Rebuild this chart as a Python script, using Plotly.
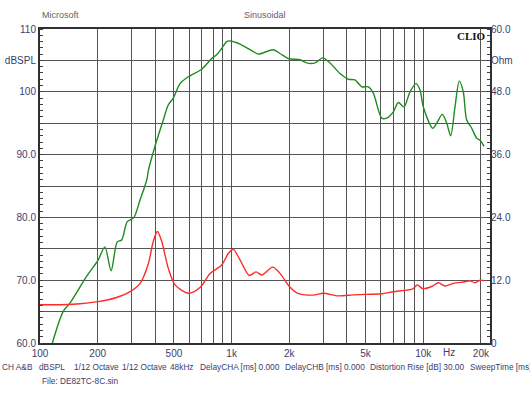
import plotly.graph_objects as go

# ---------------- data ----------------
spl_freq = [116, 132, 143, 175, 201, 218, 235, 253, 267, 285, 309, 333, 361, 368, 398, 440, 467, 496,
            538, 594, 698, 787, 836, 888, 943, 981, 1106, 1298, 1378, 1651, 1789, 1977, 2275, 2466,
            2725, 2989, 3264, 3680, 4066, 4407, 4776, 5171, 5490, 6074, 6450, 6982, 7413, 7940,
            8535, 9171, 9623, 10012, 11210, 11765, 12583, 13266, 13917, 14655, 15431, 16191,
            16866, 17915, 19024, 19797, 20769]
spl_db = [60.0, 65.0, 66.3, 70.6, 73.2, 75.3, 71.5, 76.1, 76.4, 79.3, 80.0, 82.8, 86.0, 87.5, 91.3,
          95.5, 97.9, 99.0, 101.3, 102.4, 103.6, 105.3, 105.9, 106.9, 108.0, 108.1, 107.6, 106.4,
          106.0, 106.7, 106.1, 105.3, 105.1, 104.6, 104.6, 105.4, 104.6, 102.9, 102.0, 101.9,
          100.8, 100.8, 99.8, 95.8, 95.8, 96.8, 98.3, 97.6, 100.0, 101.3, 100.3, 97.6, 94.2,
          95.0, 96.4, 95.0, 93.0, 97.6, 101.7, 100.0, 95.5, 94.2, 92.6, 92.3, 91.3]

imp_freq = [100, 149, 201, 251, 295, 333, 368, 390, 410, 432, 467, 507, 594, 684, 772, 888, 961,
            1021, 1106, 1237, 1341, 1436, 1639, 1789, 2001, 2187, 2416, 2725, 3010, 3606, 4317,
            5072, 6074, 6982, 8202, 8881, 9316, 9940, 11077, 11992, 12996, 14359, 16526, 17549,
            18644, 19797, 20769]
imp_ohm = [7.3, 7.4, 7.9, 8.7, 9.8, 11.4, 15.2, 19.4, 21.3, 19.4, 14.3, 11.1, 9.5, 10.6, 13.3,
           14.9, 17.1, 17.9, 15.9, 12.9, 13.6, 13.0, 14.5, 13.3, 10.8, 9.6, 9.2, 9.2, 9.5, 9.0,
           9.2, 9.3, 9.4, 9.8, 10.1, 10.4, 11.1, 10.4, 10.8, 11.5, 10.9, 11.4, 11.7, 11.9, 11.5,
           12.0, 11.9]

x_tickvals = [100, 200, 300, 400, 500, 600, 700, 800, 900, 1000, 2000, 3000, 4000, 5000, 6000,
              7000, 8000, 9000, 10000, 20000]
x_ticktext = ["100", "200", "", "", "500", "", "", "", "", "1k", "2k", "", "", "5k", "", "", "",
              "", "10k", "20k"]
y_tickvals = [60, 65, 70, 75, 80, 85, 90, 95, 100, 105, 110]
y_ticktext = ["60.0", "", "70.0", "", "80.0", "", "90.0", "", "100", "dBSPL", "110"]
y2_tickvals = [0, 6, 12, 18, 24, 30, 36, 42, 48, 54, 60]
y2_ticktext = ["0", "", "12.0", "", "24.0", "", "36.0", "", "48.0", "Ohm", "60.0"]

info_texts = ["CH A&B", "dBSPL", "1/12 Octave", "1/12 Octave", "48kHz", "DelayCHA [ms] 0.000",
              "DelayCHB [ms] 0.000", "Distortion Rise [dB] 30.00", "SweepTime [ms] 1000"]
info_px = [0, 37, 72, 120, 168, 198, 283, 368, 468]

# ---------------- figure ----------------
L, R, T, B = 40, 40, 29, 55
W, H = 530, 398
PW, PH = W - L - R, H - T - B


def px(x):
    return (x - L) / PW


def py(y):
    return (H - B - y) / PH


FONT = "Liberation Sans, Arial, sans-serif"
LABEL_COL = "#3d3d6b"
GRID = "#555555"

fig = go.Figure()
fig.add_trace(go.Scatter(x=spl_freq, y=spl_db, mode="lines", line=dict(color="#1e8c1e", width=1.4,
                                                                      shape="spline", smoothing=0.8),
                         yaxis="y", hoverinfo="skip", showlegend=False))
fig.add_trace(go.Scatter(x=imp_freq, y=imp_ohm, mode="lines", line=dict(color="#ff2a2a", width=1.4,
                                                                      shape="spline", smoothing=0.8),
                         yaxis="y2", hoverinfo="skip", showlegend=False))

fig.update_layout(
    width=W, height=H,
    margin=dict(l=L, r=R, t=T, b=B, pad=0, autoexpand=False),
    paper_bgcolor="white", plot_bgcolor="white",
    font=dict(family=FONT, size=10, color=LABEL_COL),
    xaxis=dict(type="log", range=[2, 4.3486], tickmode="array", tickvals=x_tickvals,
               ticktext=x_ticktext, showgrid=True, gridcolor=GRID, gridwidth=1,
               showline=True, linecolor="#303030", linewidth=2, mirror=True, automargin=False,
               ticks="", zeroline=False, tickfont=dict(size=10, color=LABEL_COL)),
    yaxis=dict(range=[60, 110], tickmode="array", tickvals=y_tickvals, ticktext=y_ticktext,
               showgrid=True, gridcolor=GRID, gridwidth=1, showline=True, linecolor="#303030",
               linewidth=2, mirror=True, ticks="", zeroline=False, automargin=False,
               tickfont=dict(size=10, color=LABEL_COL),
               minor=dict(tickmode="linear", tick0=60, dtick=1, ticks="inside", ticklen=3,
                          tickcolor="#404040", showgrid=False)),
    yaxis2=dict(range=[0, 60], overlaying="y", side="right", tickmode="array", automargin=False,
                tickvals=y2_tickvals, ticktext=y2_ticktext, showgrid=False, zeroline=False,
                showline=False, ticks="", tickfont=dict(size=10, color=LABEL_COL),
                minor=dict(tickmode="linear", tick0=0, dtick=1.2, ticks="inside", ticklen=3,
                           tickcolor="#404040", showgrid=False)),
)

ann = []
ann.append(dict(text="Microsoft", x=px(40), y=py(15), xanchor="left", yanchor="middle",
                font=dict(size=9, color="#5f665f")))
ann.append(dict(text="Sinusoidal", x=px(265), y=py(15), xanchor="center", yanchor="middle",
                font=dict(size=9, color="#6e566e")))
ann.append(dict(text="<b>CLIO</b>", x=px(488), y=py(36), xanchor="right", yanchor="middle",
                font=dict(size=11, color="#111111", family="Liberation Serif, serif")))
ann.append(dict(text="Hz", x=px(449), y=py(352), xanchor="center", yanchor="middle",
                font=dict(size=10, color=LABEL_COL)))
for t, xp in zip(info_texts, info_px):
    ann.append(dict(text=t, x=px(xp), y=py(367), xanchor="left", yanchor="middle",
                    font=dict(size=8.3, color=LABEL_COL)))
ann.append(dict(text="File: DE82TC-8C.sin", x=px(40), y=py(381), xanchor="left", yanchor="middle",
                font=dict(size=8.3, color=LABEL_COL)))
for a in ann:
    a.update(xref="paper", yref="paper", showarrow=False)
fig.update_layout(annotations=ann)

fig.write_html("out.html", config={"displayModeBar": False},
               post_script="document.body.style.margin='0';document.body.style.overflow='hidden';")
